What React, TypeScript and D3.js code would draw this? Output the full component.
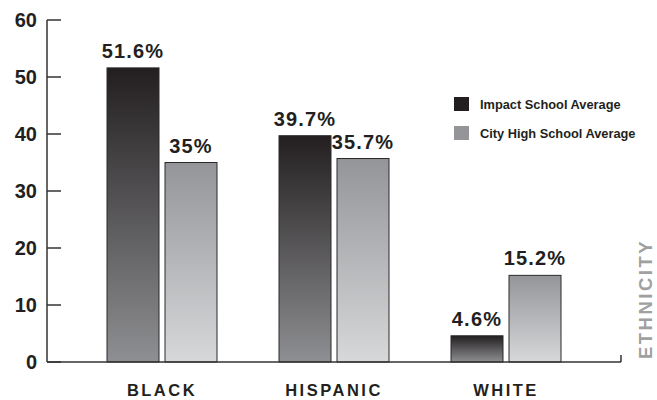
import React from "react";
import * as d3 from "d3";

const categories = ["BLACK", "HISPANIC", "WHITE"];
const impactValues = [51.6, 39.7, 4.6];
const cityValues = [35, 35.7, 15.2];
const impactLabels = ["51.6%", "39.7%", "4.6%"];
const cityLabels = ["35%", "35.7%", "15.2%"];
const yTicks = [0, 10, 20, 30, 40, 50, 60];
const seriesNames = ["Impact School Average", "City High School Average"];

const W = 657;
const H = 400;
const AX_LEFT = 47;
const AX_RIGHT = 621;
const Y0 = 362;
const YTOP = 20;
const BAR_W = 52;
const GAP = 6;
const TEXT = "#231f20";
const FONT = "'Liberation Sans', Arial, sans-serif";

export default function App() {
  const y = d3.scaleLinear().domain([0, 60]).range([Y0, YTOP]);
  const x = d3.scaleBand<string>().domain(categories).range([76, 592]).padding(0);
  const cx = (c: string) => (x(c) as number) + x.bandwidth() / 2;

  return (
    <svg
      width={W}
      height={H}
      style={{ position: "absolute", left: 0, top: 0, background: "#fff" }}
      fontFamily={FONT}
    >
      <defs>
        <linearGradient id="gImpact" x1="0" y1="0" x2="0" y2="1">
          <stop offset="0" stopColor="#231f20" />
          <stop offset="1" stopColor="#8e8f92" />
        </linearGradient>
        <linearGradient id="gCity" x1="0" y1="0" x2="0" y2="1">
          <stop offset="0" stopColor="#939598" />
          <stop offset="1" stopColor="#d7d8da" />
        </linearGradient>
      </defs>

      {/* y axis */}
      <line x1={AX_LEFT} x2={AX_LEFT} y1={y(60)} y2={Y0} stroke="#333" strokeWidth={1.5} />
      {yTicks.map((t) => (
        <g key={t}>
          <line x1={AX_LEFT} x2={AX_LEFT + 14} y1={y(t)} y2={y(t)} stroke="#333" strokeWidth={1.5} />
          <text
            x={37}
            y={y(t)}
            dy="0.36em"
            textAnchor="end"
            fontSize={20}
            fontWeight="bold"
            fill={TEXT}
          >
            {t}
          </text>
        </g>
      ))}

      {/* bars */}
      {categories.map((c, i) => {
        const center = cx(c);
        const ix = center - GAP / 2 - BAR_W;
        const cxx = center + GAP / 2;
        return (
          <g key={c}>
            <rect
              x={ix}
              y={y(impactValues[i])}
              width={BAR_W}
              height={Y0 - y(impactValues[i])}
              fill="url(#gImpact)"
              stroke="#2a2a2a"
              strokeWidth={1}
            />
            <rect
              x={cxx}
              y={y(cityValues[i])}
              width={BAR_W}
              height={Y0 - y(cityValues[i])}
              fill="url(#gCity)"
              stroke="#2a2a2a"
              strokeWidth={1}
            />
            <text
              x={ix + BAR_W / 2}
              y={y(impactValues[i]) - 10}
              textAnchor="middle"
              fontSize={20}
              fontWeight="bold"
              letterSpacing={1.2}
              fill={TEXT}
            >
              {impactLabels[i]}
            </text>
            <text
              x={cxx + BAR_W / 2}
              y={y(cityValues[i]) - 10}
              textAnchor="middle"
              fontSize={20}
              fontWeight="bold"
              letterSpacing={1.2}
              fill={TEXT}
            >
              {cityLabels[i]}
            </text>
            <text
              x={center}
              y={396}
              textAnchor="middle"
              fontSize={16.5}
              fontWeight="bold"
              letterSpacing={2.5}
              fill={TEXT}
            >
              {c}
            </text>
          </g>
        );
      })}

      {/* baseline */}
      <line x1={AX_LEFT} x2={AX_RIGHT} y1={Y0} y2={Y0} stroke="#333" strokeWidth={1.5} />
      <line x1={AX_RIGHT} x2={AX_RIGHT} y1={Y0 - 7} y2={Y0} stroke="#333" strokeWidth={1.5} />

      {/* legend */}
      <rect x={454} y={97} width={15} height={14} fill="#231f20" />
      <text x={480} y={109} fontSize={12.8} fontWeight="bold" fill={TEXT}>
        {seriesNames[0]}
      </text>
      <rect x={454} y={126} width={15} height={14} fill="#939598" />
      <text x={480} y={138} fontSize={12.8} fontWeight="bold" fill={TEXT}>
        {seriesNames[1]}
      </text>

      {/* ethnicity */}
      <text
        transform={`translate(652, 299) rotate(-90)`}
        textAnchor="middle"
        fontSize={18.5}
        letterSpacing={2.5}
        fill="#a0a0a0"
        fontWeight="bold"
      >
        ETHNICITY
      </text>
    </svg>
  );
}
